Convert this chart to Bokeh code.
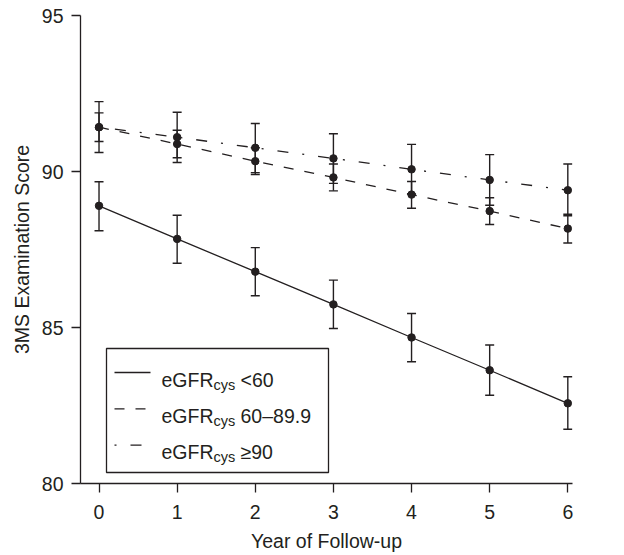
from bokeh.plotting import figure
from bokeh.models import (Range1d, FixedTicker, ColumnDataSource, Whisker, TeeHead,
                          BoxAnnotation, Label)
from bokeh.embed import file_html
from bokeh.resources import INLINE

# ---------------- data ----------------
years = [0, 1, 2, 3, 4, 5, 6]

lt60 = [88.90, 87.84, 86.79, 85.74, 84.68, 83.63, 82.57]
lt60_hi = [89.67, 88.60, 87.56, 86.52, 85.45, 84.44, 83.42]
lt60_lo = [88.10, 87.06, 86.02, 84.97, 83.90, 82.83, 81.74]

mid = [91.42, 90.88, 90.33, 89.81, 89.26, 88.73, 88.17]
mid_hi = [91.88, 91.32, 90.76, 90.24, 89.68, 89.16, 88.58]
mid_lo = [90.96, 90.44, 89.90, 89.38, 88.82, 88.30, 87.71]

ge90 = [91.42, 91.10, 90.76, 90.42, 90.07, 89.73, 89.40]
ge90_hi = [92.24, 91.90, 91.54, 91.21, 90.87, 90.54, 90.24]
ge90_lo = [90.61, 90.29, 89.96, 89.62, 89.28, 88.92, 88.63]

legend_tail = ["<60", "60\u201389.9", "\u226590"]
x_ticks = [0, 1, 2, 3, 4, 5, 6]
y_ticks = [80, 85, 90, 95]

# ---------------- styling / layout ----------------
FONT = "Liberation Sans"
INK = "#231f20"
XR = (-0.237, 6.06)
YR = (80, 95)
FW, FH = 492, 468
FL, FT = 80, 15  # picture position of frame left / top

def dx(px):
    return XR[0] + (px - FL) * (XR[1] - XR[0]) / FW

def dy(py):
    return YR[1] - (py - FT) * (YR[1] - YR[0]) / FH

p = figure(frame_width=FW, frame_height=FH,
           x_range=Range1d(*XR), y_range=Range1d(*YR),
           output_backend="svg", toolbar_location=None,
           min_border_left=80, min_border_top=15, min_border_right=40,
           min_border_bottom=60)
p.outline_line_color = None
p.grid.visible = False
p.background_fill_color = "white"
p.border_fill_color = "white"

for ax in (p.xaxis[0], p.yaxis[0]):
    ax.axis_line_color = INK
    ax.axis_line_width = 1.3
    ax.major_tick_line_color = INK
    ax.major_tick_line_width = 1.3
    ax.major_tick_in = 0
    ax.major_tick_out = 9
    ax.minor_tick_line_color = None
    ax.major_label_text_font = FONT
    ax.major_label_text_font_size = "19.5px"
    ax.major_label_text_color = INK
    ax.axis_label_text_font = FONT
    ax.axis_label_text_font_size = "19.5px"
    ax.axis_label_text_font_style = "normal"
    ax.axis_label_text_color = INK

p.xaxis.major_label_standoff = 12
p.xaxis.axis_label_standoff = 8
p.yaxis.major_label_standoff = 8
p.yaxis.axis_label_standoff = 6

p.xaxis.ticker = FixedTicker(ticks=x_ticks)
p.yaxis.ticker = FixedTicker(ticks=y_ticks)
p.xaxis.axis_label = "Year of Follow-up"
p.yaxis.axis_label = "3MS Examination Score"

series = [
    (lt60, lt60_hi, lt60_lo, "solid"),
    (mid, mid_hi, mid_lo, "10 11"),
    (ge90, ge90_hi, ge90_lo, "2 14 11 14"),
]

for vals, hi, lo, dash in series:
    src = ColumnDataSource(dict(x=years, y=vals, upper=hi, lower=lo))
    p.line("x", "y", source=src, line_color=INK, line_width=1.3, line_dash=dash)
    w = Whisker(base="x", upper="upper", lower="lower", source=src,
                line_color=INK, line_width=1.4,
                upper_head=TeeHead(size=9, line_color=INK, line_width=1.4),
                lower_head=TeeHead(size=9, line_color=INK, line_width=1.4))
    p.add_layout(w)
    p.scatter("x", "y", source=src, size=7.5, fill_color=INK, line_color=INK)

# ---------------- legend (drawn by hand for the subscript) ----------------
p.add_layout(BoxAnnotation(left=dx(106), right=dx(328), top=dy(348), bottom=dy(472),
                           fill_color=None, fill_alpha=0, line_color=INK,
                           line_alpha=1.0, line_width=1.3))
row_y = [372, 408.3, 444.6]
dashes = ["solid", "10 11", "2 14 11 14"]
for ry, dash, tail in zip(row_y, dashes, legend_tail):
    p.line([dx(114), dx(150)], [dy(ry), dy(ry)], line_color=INK, line_width=1.3,
           line_dash=dash)
    base = dy(ry + 7)
    p.add_layout(Label(x=dx(161), y=base, text="eGFR", text_font=FONT,
                       text_font_size="19.5px", text_color=INK,
                       text_baseline="alphabetic", text_align="left"))
    p.add_layout(Label(x=dx(213), y=dy(ry + 12), text="cys", text_font=FONT,
                       text_font_size="14.5px", text_color=INK,
                       text_baseline="alphabetic", text_align="left"))
    p.add_layout(Label(x=dx(240), y=base, text=tail, text_font=FONT,
                       text_font_size="19.5px", text_color=INK,
                       text_baseline="alphabetic", text_align="left"))

open("out.html", "w").write(file_html(p, INLINE))
